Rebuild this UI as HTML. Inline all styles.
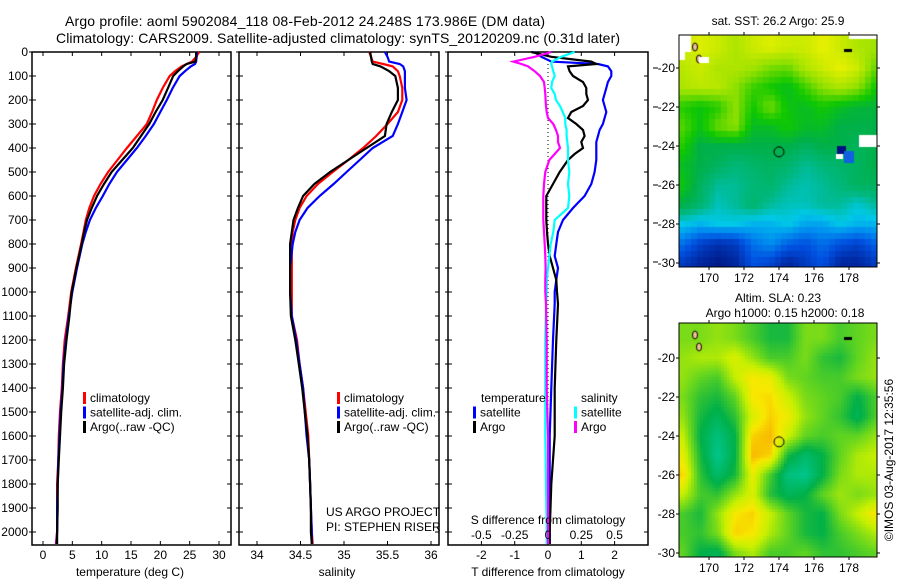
<!DOCTYPE html>
<html><head><meta charset="utf-8">
<style>
html,body{margin:0;padding:0;background:#fff;}
#wrap{position:relative;width:900px;height:580px;overflow:hidden;font-family:"Liberation Sans",sans-serif;}
svg{position:absolute;left:0;top:0;}
canvas{position:absolute;}
text{font-family:"Liberation Sans",sans-serif;fill:#000;}
</style></head><body>
<div id="wrap">
<canvas id="sst" width="198" height="232" style="left:679px;top:35px"></canvas>
<canvas id="sla" width="198" height="234" style="left:679px;top:323px"></canvas>
<svg id="fig" width="900" height="580" xmlns="http://www.w3.org/2000/svg">
<text x="305" y="26" font-size="14" text-anchor="middle" textLength="480">Argo profile: aoml 5902084_118 08-Feb-2012 24.248S 173.986E (DM data)</text>
<text x="338" y="43" font-size="14" text-anchor="middle" textLength="564">Climatology: CARS2009. Satellite-adjusted climatology: synTS_20120209.nc (0.31d later)</text>
<g id="p1"></g>
<g id="p2"></g>
<g id="p3"></g>
<g id="maps"></g>
<text x="778" y="25" font-size="12" text-anchor="middle">sat. SST: 26.2 Argo: 25.9</text>
<text x="778" y="302" font-size="12" text-anchor="middle">Altim. SLA: 0.23</text>
<text x="785" y="317" font-size="12" text-anchor="middle">Argo h1000: 0.15 h2000: 0.18</text>
<text transform="translate(893,460) rotate(-90)" font-size="12" text-anchor="middle">©IMOS 03-Aug-2017 12:35:56</text>
</svg>
</div>
<script>
// ---- profile data ----
const depths = [0,20,40,50,60,80,100,150,200,250,300,350,400,450,500,550,600,650,700,750,800,900,1000,1100,1200,1300,1400,1500,1600,1700,1800,1900,2000,2050];
const tempClim = [26.6,26.1,25.4,24.5,23.6,22.5,21.6,20.4,19.4,18.6,17.7,16.0,14.3,12.7,11.1,9.8,8.7,7.9,7.3,6.9,6.5,5.6,4.8,4.3,3.7,3.4,3.2,2.9,2.7,2.6,2.4,2.4,2.4,2.2];
const tempSat = [26.2,26.2,26.1,25.9,25.2,24.2,23.3,22.1,21.1,20.0,18.9,17.5,16.0,14.3,12.6,11.3,10.2,9.0,8.0,7.3,6.7,5.8,5.0,4.4,3.9,3.5,3.3,3.0,2.8,2.6,2.5,2.4,2.4,2.3];
const tempArgo = [26.1,26.1,26.0,24.5,23.9,23.0,22.2,21.3,20.4,19.2,18.1,16.7,15.3,13.5,11.7,10.4,9.2,8.3,7.5,7.0,6.6,5.7,4.9,4.5,4.0,3.6,3.4,3.1,2.9,2.7,2.5,2.5,2.4,2.4];
const salClim = [35.29,35.31,35.33,35.45,35.56,35.62,35.64,35.67,35.67,35.62,35.50,35.37,35.22,35.05,34.87,34.70,34.57,34.49,34.44,34.41,34.40,34.40,34.40,34.40,34.46,34.49,34.53,34.56,34.59,34.60,34.61,34.62,34.63,34.64];
const salSat = [35.47,35.50,35.52,35.64,35.68,35.70,35.70,35.70,35.72,35.67,35.62,35.56,35.33,35.18,35.03,34.88,34.72,34.58,34.49,34.44,34.41,34.38,34.38,34.40,34.45,34.49,34.53,34.55,34.57,34.60,34.61,34.62,34.63,34.63];
const salArgo = [35.30,35.31,35.32,35.33,35.42,35.52,35.59,35.62,35.62,35.55,35.49,35.47,35.26,35.05,34.84,34.66,34.53,34.47,34.42,34.40,34.38,34.38,34.38,34.39,34.44,34.48,34.52,34.55,34.58,34.60,34.61,34.62,34.62,34.63];
// differences (panel 3)
const diffDepths = [0,20,40,50,60,80,100,125,150,175,200,225,250,275,300,325,350,375,400,425,450,500,550,600,650,700,750,800,850,900,950,1000,1050,1200,1400,1600,1800,2000,2050];
const tDiffSat = [-0.4,-0.2,0.1,1.5,1.8,1.9,1.9,1.8,1.75,1.7,1.65,1.7,1.75,1.7,1.65,1.55,1.5,1.45,1.45,1.45,1.45,1.4,1.3,1.1,0.75,0.45,0.3,0.25,0.2,0.3,0.25,0.2,0.2,0.15,0.1,0.05,0.05,0.05,0.05];
const tDiffArgo = [-0.5,0.1,1.3,1.45,0.6,0.65,0.75,1.05,1.15,1.15,1.2,1.05,0.7,0.6,0.85,1.05,1.1,1.0,1.05,0.8,0.6,0.35,0.15,-0.05,-0.05,-0.05,-0.03,0.0,0.05,0.15,0.25,0.27,0.3,0.25,0.2,0.2,0.1,0.05,0.05];
const sDiffSat = [0.2,0.1,0.03,0.025,0.03,0.04,0.05,0.03,0.025,0.05,0.06,0.09,0.11,0.13,0.13,0.14,0.14,0.145,0.15,0.15,0.15,0.16,0.15,0.16,0.15,0.05,0.04,0.02,0.01,0.0,-0.01,-0.01,-0.015,-0.02,-0.02,-0.02,-0.015,-0.01,-0.01];
const sDiffArgo = [0.025,-0.1,-0.26,-0.2,-0.15,-0.1,-0.06,-0.03,-0.025,-0.02,-0.018,-0.015,-0.01,0.0,0.04,0.06,0.075,0.075,0.09,0.05,0.01,-0.02,-0.03,-0.035,-0.035,-0.035,-0.03,-0.025,-0.02,-0.018,-0.02,-0.02,-0.015,-0.01,-0.01,0.0,0.0,0.0,0.0];
const depthTicks = [0,100,200,300,400,500,600,700,800,900,1000,1100,1200,1300,1400,1500,1600,1700,1800,1900,2000];
const tempTicks = [0,5,10,15,20,25,30];
const salTicks = [34,34.5,35,35.5,36];
const tdTicks = [-2,-1,0,1,2];
const sdTicks = [-0.5,-0.25,0,0.25,0.5];
const sdTickLabels = ["-0.5","-0.25","0","0.25","0.5"];

const NS = "http://www.w3.org/2000/svg";
function el(parent, tag, attrs, txt){
  const e = document.createElementNS(NS, tag);
  for (const k in attrs) e.setAttribute(k, attrs[k]);
  if (txt !== undefined) e.textContent = txt;
  parent.appendChild(e);
  return e;
}
const Y0 = 52, YB = 545;
const yD = d => Y0 + 0.24*d;
const xT = t => 43 + 5.867*t;
const xS = s => 257 + 87*(s-34);
const xDT = t => 548 + 33.3*t;
const xDS = s => 548 + 133.2*s;

function frame(g, x0, x1, name){
  const r = el(g,'rect',{x:x0,y:Y0,width:x1-x0,height:YB-Y0,fill:'none',stroke:'#000','stroke-width':1.5});
  
  
  depthTicks.forEach(d=>{
    el(g,'line',{x1:x0-3,x2:x0+4,y1:yD(d),y2:yD(d),stroke:'#000','stroke-width':1});
    el(g,'line',{x1:x1-4,x2:x1,y1:yD(d),y2:yD(d),stroke:'#000','stroke-width':1});
  });
}
function xticks(g, ticks, fx, labels, ly){
  ticks.forEach((t,i)=>{
    const x = fx(t);
    el(g,'line',{x1:x,x2:x,y1:Y0,y2:Y0+4,stroke:'#000','stroke-width':1});
    el(g,'line',{x1:x,x2:x,y1:YB-4,y2:YB,stroke:'#000','stroke-width':1});
    const tx = el(g,'text',{x:x,y:ly,'font-size':12,'text-anchor':'middle'}, labels?labels[i]:String(t));
    
    
  });
}
function line(g, xs, ys, fx, color, name){
  const pts = xs.map((v,i)=>fx(v).toFixed(1)+','+yD(ys[i]).toFixed(1)).join(' ');
  const p = el(g,'polyline',{points:pts,fill:'none',stroke:color,'stroke-width':2.2,'stroke-linejoin':'miter'});
  
  
}
function legend(g, x, y, items){
  items.forEach((it,i)=>{
    el(g,'rect',{x:x,y:y+i*14.5-10,width:3,height:12,fill:it[1]});
    const t = el(g,'text',{x:x+7,y:y+i*14.5,'font-size':12}, it[0]);
    
    
  });
}

// panel 1
const p1 = document.getElementById('p1');
frame(p1, 32, 231, 'temperature-panel');
depthTicks.forEach(d=>{
  const t = el(p1,'text',{x:28,y:yD(d)+4,'font-size':12,'text-anchor':'end'}, String(d));
  
  
});
xticks(p1, tempTicks, xT, null, 559);
const t1 = el(p1,'text',{x:130,y:576,'font-size':12,'text-anchor':'middle'},'temperature (deg C)');


line(p1, tempClim, depths, xT, '#ff0000', 'temp-climatology-line');
line(p1, tempSat, depths, xT, '#0000ff', 'temp-satellite-line');
line(p1, tempArgo, depths, xT, '#000000', 'temp-argo-line');
legend(p1, 83, 402, [['climatology','#f00'],['satellite-adj. clim.','#00f'],['Argo(..raw -QC)','#000']]);

// panel 2
const p2 = document.getElementById('p2');
frame(p2, 239, 439, 'salinity-panel');
xticks(p2, salTicks, xS, null, 559);
const t2 = el(p2,'text',{x:337,y:576,'font-size':12,'text-anchor':'middle'},'salinity');


line(p2, salClim, depths, xS, '#ff0000', 'sal-climatology-line');
line(p2, salSat, depths, xS, '#0000ff', 'sal-satellite-line');
line(p2, salArgo, depths, xS, '#000000', 'sal-argo-line');
legend(p2, 337, 402, [['climatology','#f00'],['satellite-adj. clim.','#00f'],['Argo(..raw -QC)','#000']]);
const u1 = el(p2,'text',{x:326,y:516,'font-size':12},'US ARGO PROJECT');


const u2 = el(p2,'text',{x:326,y:531,'font-size':12},'PI: STEPHEN RISER');



// panel 3
const p3 = document.getElementById('p3');
frame(p3, 448, 648, 'difference-panel');
xticks(p3, tdTicks, xDT, null, 559);
el(p3,'line',{x1:548,x2:548,y1:Y0,y2:YB,stroke:'#000','stroke-width':1,'stroke-dasharray':'1,3'});
line(p3, tDiffSat, diffDepths, xDT, '#0000ff', 'tdiff-satellite-line');
line(p3, tDiffArgo, diffDepths, xDT, '#000000', 'tdiff-argo-line');
line(p3, sDiffSat, diffDepths, xDS, '#00ffff', 'sdiff-satellite-line');
line(p3, sDiffArgo, diffDepths, xDS, '#ff00ff', 'sdiff-argo-line');
sdTicks.forEach((s,i)=>{
  const t = el(p3,'text',{x:xDS(s),y:539,'font-size':12,'text-anchor':'middle'}, sdTickLabels[i]);
  
  
});
const sd = el(p3,'text',{x:548,y:524,'font-size':12,'text-anchor':'middle'},'S difference from climatology');


const td = el(p3,'text',{x:548,y:576,'font-size':12,'text-anchor':'middle'},'T difference from climatology');


const lt = el(p3,'text',{x:481,y:402,'font-size':12},'temperature');


legend(p3, 473, 416.5, [['satellite','#00f'],['Argo','#000']]);
const ls = el(p3,'text',{x:581,y:402,'font-size':12},'salinity');


legend(p3, 574, 416.5, [['satellite','#0ff'],['Argo','#f0f']]);
[68,107,146,185,223,262].forEach(y=>el(p3,'line',{x1:653,x2:658,y1:y,y2:y,stroke:'#000'}));

// ---- maps ----
const mapLats = [19,20,21,22,23,24,25,26,27,28,29,30];
const mapLons = [168.5,169.5,170.5,171.5,172.5,173.5,174.5,175.5,176.5,177.5,178.5,179.5];
const sstGrid = [
[.85,.88,.85,.8,.85,.88,.85,.85,.9,.85,.8,.78],
[.82,.85,.8,.8,.78,.72,.7,.8,.85,.9,.85,.7],
[.8,.82,.82,.75,.65,.6,.55,.65,.75,.8,.75,.6],
[.62,.58,.62,.75,.6,.72,.58,.55,.6,.55,.52,.52],
[.68,.58,.7,.75,.55,.55,.6,.55,.55,.5,.5,.5],
[.62,.5,.5,.5,.5,.5,.5,.47,.5,.5,.47,.5],
[.55,.5,.47,.43,.45,.47,.45,.4,.43,.45,.47,.5],
[.58,.47,.4,.4,.43,.45,.4,.38,.4,.43,.47,.47],
[.5,.45,.37,.4,.45,.4,.37,.37,.4,.4,.35,.4],
[.33,.3,.33,.33,.3,.3,.33,.28,.28,.33,.3,.3],
[.2,.12,.08,.1,.2,.25,.18,.15,.2,.15,.12,.18],
[.1,.05,.02,.05,.15,.12,.05,.1,.15,.05,.05,.1]];
const slaGrid = [
[.55,.55,.6,.55,.45,.35,.35,.55,.55,.45,.5,.55],
[.6,.65,.65,.75,.6,.45,.45,.55,.4,.35,.5,.6],
[.6,.5,.45,.7,.85,.8,.55,.5,.45,.45,.55,.6],
[.55,.4,.35,.5,.85,.88,.72,.55,.5,.45,.3,.45],
[.6,.35,.25,.4,.75,.9,.82,.6,.5,.4,.25,.45],
[.7,.3,.15,.3,.9,.95,.72,.5,.45,.5,.5,.6],
[.8,.35,.1,.3,.95,.9,.35,.2,.3,.5,.65,.7],
[.9,.4,.2,.35,.8,.45,.15,.1,.3,.55,.65,.65],
[.7,.45,.4,.6,.75,.38,.25,.3,.5,.62,.55,.6],
[.45,.35,.6,.85,.9,.7,.5,.35,.3,.55,.7,.85],
[.45,.4,.55,.9,.85,.65,.5,.35,.3,.45,.55,.65],
[.5,.3,.25,.55,.65,.45,.45,.5,.4,.4,.45,.5]];
const lonTicks = [170,172,174,176,178];
const latTicks = [20,22,24,26,28,30];

const sstCmap = [[0,[0,16,122]],[0.15,[0,80,224]],[0.25,[0,144,240]],[0.33,[0,200,232]],[0.42,[0,184,128]],[0.5,[0,176,72]],[0.6,[16,200,0]],[0.75,[144,224,0]],[0.9,[232,240,0]],[1,[240,240,0]]];
const slaCmap = [[0,[0,208,176]],[0.3,[0,176,72]],[0.5,[96,212,32]],[0.7,[200,240,0]],[0.85,[248,232,0]],[1,[248,160,0]]];
function cmap(stops,v){
  v=Math.max(0,Math.min(1,v));
  for(let i=1;i<stops.length;i++){
    if(v<=stops[i][0]){
      const a=stops[i-1],b=stops[i],f=(v-a[0])/(b[0]-a[0]);
      return 'rgb('+a[1].map((c,k)=>Math.round(c+(b[1][k]-c)*f)).join(',')+')';
    }
  }
  return 'rgb('+stops[stops.length-1][1].join(',')+')';
}
function sample(grid,lon,lat){
  let fx=(lon-mapLons[0]), fy=(lat-mapLats[0]);
  fx=Math.max(0,Math.min(11,fx)); fy=Math.max(0,Math.min(11,fy));
  const i0=Math.floor(fy), j0=Math.floor(fx), i1=Math.min(11,i0+1), j1=Math.min(11,j0+1);
  const a=fy-i0, b=fx-j0;
  return grid[i0][j0]*(1-a)*(1-b)+grid[i0][j1]*(1-a)*b+grid[i1][j0]*a*(1-b)+grid[i1][j1]*a*b;
}
function drawMap(id, grid, stops, cell, lat20y){
  const c=document.getElementById(id), ctx=c.getContext('2d');
  for(let y=0;y<c.height;y+=cell){
    for(let x=0;x<c.width;x+=cell){
      const lon=170+((x+cell/2)-30)/17.5;
      const lat=20+((y+cell/2)-lat20y)/19.5;
      ctx.fillStyle=cmap(stops,sample(grid,lon,lat));
      ctx.fillRect(x,y,cell,cell);
    }
  }
  ctx.fillStyle='#f0c090';ctx.strokeStyle='#000';
  [[14,10],[18,22]].forEach(p=>{ctx.beginPath();ctx.ellipse(p[0]+2,p[1]+2,2.5,4,0,0,7);ctx.fill();ctx.stroke();});
  ctx.fillStyle='#000';ctx.fillRect(165,14,8,3);
  ctx.beginPath();ctx.arc(30+4*17.5,lat20y+4.3*19.5,5,0,7);ctx.lineWidth=1;ctx.stroke();
}
drawMap('sst', sstGrid, sstCmap, 6, 33);
drawMap('sla', slaGrid, slaCmap, 3, 35);
(function(){
  const c=document.getElementById('sst').getContext('2d');
  c.fillStyle='#fff';
  c.fillRect(0,0,12,17);c.fillRect(0,17,6,8);c.fillRect(20,22,10,6);c.fillRect(180,100,18,12);c.fillRect(170,0,28,4);
  c.fillStyle='#001080';c.fillRect(158,111,9,8);c.fillStyle='#1060e0';c.fillRect(165,116,10,12);
  c.fillStyle='#fff';c.fillRect(157,119,7,5);
})();

const mg = document.getElementById('maps');
function mapAxes(top, h, lat20y, name){
  const r = el(mg,'rect',{x:679,y:top,width:198,height:h,fill:'none',stroke:'#000','stroke-width':1});
  
  
  lonTicks.forEach(l=>{
    const x=709+(l-170)*17.5;
    el(mg,'line',{x1:x,x2:x,y1:top-3,y2:top,stroke:'#000'});
    el(mg,'line',{x1:x,x2:x,y1:top+h,y2:top+h+3,stroke:'#000'});
    const t = el(mg,'text',{x:x,y:top+h+15,'font-size':12,'text-anchor':'middle'},String(l));
    
    
  });
  latTicks.forEach(l=>{
    const y=lat20y+(l-20)*19.5;
    el(mg,'line',{x1:676,x2:679,y1:y,y2:y,stroke:'#000'});
    el(mg,'line',{x1:877,x2:880,y1:y,y2:y,stroke:'#000'});
    const t = el(mg,'text',{x:675,y:y+4,'font-size':12,'text-anchor':'end'},'-'+l);
    
    
  });
}
mapAxes(35, 232, 68, 'sst-map');
mapAxes(323, 234, 358, 'sla-map');
</script>
</body></html>
